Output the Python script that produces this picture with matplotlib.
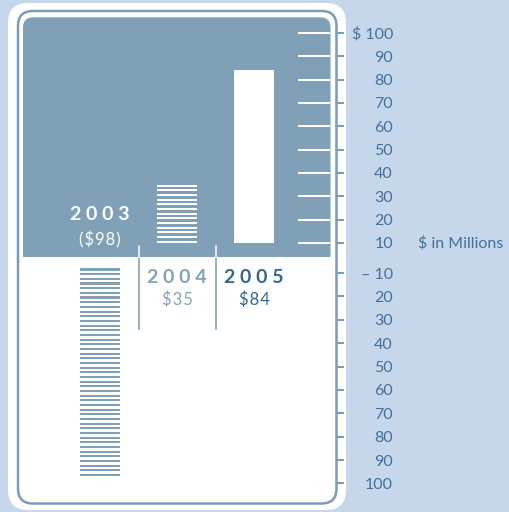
import numpy as np
import matplotlib.pyplot as plt
from matplotlib.patches import FancyBboxPatch, Rectangle
from matplotlib.transforms import Affine2D, blended_transform_factory

# ---- data ($ in millions) ----
years = ['2003', '2004', '2005']
values = [-98, 35, 84]
value_labels = ['($98)', '$35', '$84']
top_ticks = [10, 20, 30, 40, 50, 60, 70, 80, 90, 100]
top_tick_labels = ['10', '20', '30', '40', '50', '60', '70', '80', '90', '$ 100']
bottom_ticks = [-10, -20, -30, -40, -50, -60, -70, -80, -90, -100]
bottom_tick_labels = ['\u2013 10', '20', '30', '40', '50', '60', '70', '80', '90', '100']

# ---- style ----
BG = '#c6d6eb'
FILL = '#7fa0b6'
LINE = '#7a9cb4'
TEXT = '#43719a'
DARK = '#336690'
LIGHT = '#83a2b9'
FONT = ['Lato', 'DejaVu Sans']
plt.rcParams['font.family'] = FONT

W, H = 510, 512
fig = plt.figure(figsize=(W / 100, H / 100), dpi=100)
fig.patch.set_facecolor(BG)
px = Affine2D().scale(1 / 100) + fig.dpi_scale_trans   # pixel units, origin bottom-left


def panel(x0, y0, x1, y1, r, z, **kw):
    """Rounded box given in pixel coordinates measured from the top-left."""
    p = FancyBboxPatch((x0, H - y1), x1 - x0, y1 - y0,
                       boxstyle=f"round,pad=0,rounding_size={r}",
                       transform=px, zorder=z, **kw)
    fig.add_artist(p)


def spaced(s, sep):
    return sep.join(s)


# frame: white card, thin outline, blue upper half
panel(8, 3, 346, 510, 20, 0.1, facecolor='white', edgecolor='none')
panel(18, 11, 336.5, 503.5, 15, 0.2, facecolor='none', edgecolor=LINE, linewidth=1.8)
panel(23, 17.3, 330.5, 290, 10, 0.3, facecolor=FILL, edgecolor='none')
fig.add_artist(Rectangle((21, H - 292), 311, 35, transform=px, zorder=0.4,
                         facecolor='white', edgecolor='none'))

# two stacked axes sharing one pixel scale: positive (top) and negative (bottom)
def add_axes_px(x0, y0, x1, y1):
    return fig.add_axes([x0 / W, 1 - y1 / H, (x1 - x0) / W, (y1 - y0) / H])

ax_top = add_axes_px(23, 17.3, 336.5, 257)
ax_bot = add_axes_px(23, 257, 336.5, 503.5)

XLIM = (-1.0, 3.071)
ax_top.set_ylim(4.0, 106.7)
ax_bot.set_ylim(-108.6, -3.1)

TOP_BASE, BOT_BASE = 10, -8
BAR_W = 0.52
STEP, STRIPE = 2.0, 0.9

for ax in (ax_top, ax_bot):
    ax.set_zorder(5)
    ax.patch.set_visible(False)
    ax.set_xlim(*XLIM)
    for s in ax.spines.values():
        s.set_visible(False)
    ax.set_xticks([])
    ax.yaxis.tick_right()
    ax.tick_params(axis='y', direction='out', length=6.1, width=1.45,
                   color=LINE, pad=34.5, labelsize=11.5, labelcolor=TEXT)

ax_top.set_yticks(top_ticks, top_tick_labels)
ax_bot.set_yticks(bottom_ticks, bottom_tick_labels)
for ax in (ax_top, ax_bot):
    for lab in ax.get_yticklabels():
        lab.set_horizontalalignment('right')

# white gauge marks inside the blue area
ax_top.hlines(top_ticks, 2.571, 2.99, color='white', linewidth=1.45)

# bars
for i, v in enumerate(values):
    if v > 0:
        ax = ax_top
        if i == 2:
            ax.bar(i, v - TOP_BASE, bottom=TOP_BASE, width=BAR_W, color='white', linewidth=0)
            continue
        tops = np.arange(v, TOP_BASE + STRIPE - 1e-9, -STEP)
        ax.bar(np.full(len(tops), i), STRIPE, bottom=tops - STRIPE, width=BAR_W,
               color='white', linewidth=0)
    else:
        ax = ax_bot
        tops = np.arange(BOT_BASE, v + STRIPE - 1e-9, -STEP)
        ax.bar(np.full(len(tops), i), STRIPE, bottom=tops - STRIPE, width=BAR_W,
               color=FILL, linewidth=0)

# year and value captions
HAIR = '\u200a'
ax_top.text(0, 22.0, spaced(years[0], ' '), ha='center', va='center', color='white',
            fontsize=14, fontweight='bold')
ax_top.text(0, 11.4, spaced(value_labels[0], HAIR), ha='center', va='center',
            color='white', fontsize=12)
for i, col in ((1, LIGHT), (2, DARK)):
    ax_bot.text(i, -11.7, spaced(years[i], ' '), ha='center', va='center', color=col,
                fontsize=14, fontweight='bold')
    ax_bot.text(i, -21.2, spaced(value_labels[i], HAIR), ha='center', va='center',
                color=col, fontsize=12)

# column dividers (white where they cross into the blue band)
for xd in (0.5, 1.5):
    ax_bot.axvline(xd, ymin=0.708, ymax=1.0, color=LINE, linewidth=1.1, clip_on=False)
    ax_bot.axvline(xd, ymin=1.0, ymax=1.045, color='white', linewidth=1.1, clip_on=False)

# unit label
ax_top.text(418, 10, '$ in Millions', transform=blended_transform_factory(px, ax_top.transData),
            ha='left', va='center', color=TEXT, fontsize=11.5)

fig.savefig('out.png', dpi=100, facecolor=BG)
